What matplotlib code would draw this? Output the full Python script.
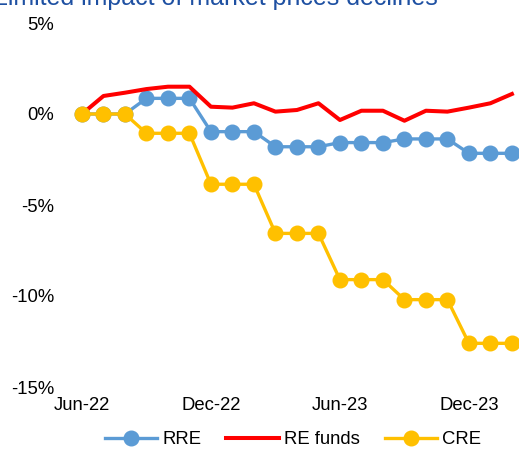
import matplotlib
matplotlib.use("Agg")
import matplotlib.pyplot as plt

plt.rcParams['font.family'] = ['Liberation Sans', 'DejaVu Sans']

# monthly observations, Jun-22 .. Feb-24
months = ['Jun-22', 'Jul-22', 'Aug-22', 'Sep-22', 'Oct-22', 'Nov-22',
          'Dec-22', 'Jan-23', 'Feb-23', 'Mar-23', 'Apr-23', 'May-23',
          'Jun-23', 'Jul-23', 'Aug-23', 'Sep-23', 'Oct-23', 'Nov-23',
          'Dec-23', 'Jan-24', 'Feb-24']
rre = [0.0, 0.0, 0.0, 0.86, 0.86, 0.86, -0.97, -0.97, -0.97,
       -1.8, -1.8, -1.8, -1.57, -1.57, -1.57, -1.37, -1.37, -1.37,
       -2.16, -2.16, -2.16]
re_funds = [0.0, 0.99, 1.17, 1.37, 1.5, 1.5, 0.4, 0.35, 0.59, 0.13,
            0.22, 0.59, -0.33, 0.18, 0.18, -0.37, 0.18, 0.13, 0.35,
            0.59, 1.1]
cre = [0.0, 0.0, 0.0, -1.06, -1.06, -1.06, -3.86, -3.86, -3.86,
       -6.56, -6.56, -6.56, -9.1, -9.1, -9.1, -10.2, -10.2, -10.2,
       -12.6, -12.6, -12.6]
tick_idx = [0, 6, 12, 18]
yticks = [5, 0, -5, -10, -15]

fig = plt.figure(figsize=(5.19, 4.5), dpi=100)
ax = fig.add_axes([65 / 519, 1 - 387 / 450, 1 - 65 / 519, (387 - 23) / 450])

x = list(range(len(months)))
ax.plot(x, rre, color='#5b9bd5', lw=2.4, marker='o', ms=10.5, label='RRE',
        zorder=2, clip_on=False)
ax.plot(x, re_funds, color='#ff0000', lw=2.9, label='RE funds',
        zorder=3, clip_on=False)
ax.plot(x, cre, color='#ffc000', lw=2.4, marker='o', ms=10.5, label='CRE',
        zorder=4, clip_on=False)

ax.set_xlim(-0.79, 20.33)
ax.set_ylim(-15, 5)
ax.set_xticks(tick_idx)
ax.set_xticklabels([months[i] for i in tick_idx])
ax.set_yticks(yticks)
ax.set_yticklabels([f'{v}%' for v in yticks])
ax.tick_params(length=0, labelsize=13.3, colors='black')
ax.tick_params(axis='y', pad=8)
ax.tick_params(axis='x', pad=7)
for s in ax.spines.values():
    s.set_visible(False)

fig.text(-0.012, 1 - 5 / 450, 'Limited impact of market prices declines',
         color='#1e50a2', fontsize=18, va='baseline', ha='left')

fig.legend(loc='center', bbox_to_anchor=(293 / 519, 1 - 440 / 450), ncol=3,
           frameon=False, fontsize=13.3, handlelength=2.85, handletextpad=0.27,
           columnspacing=1.35)

fig.savefig('out.png', dpi=100)
